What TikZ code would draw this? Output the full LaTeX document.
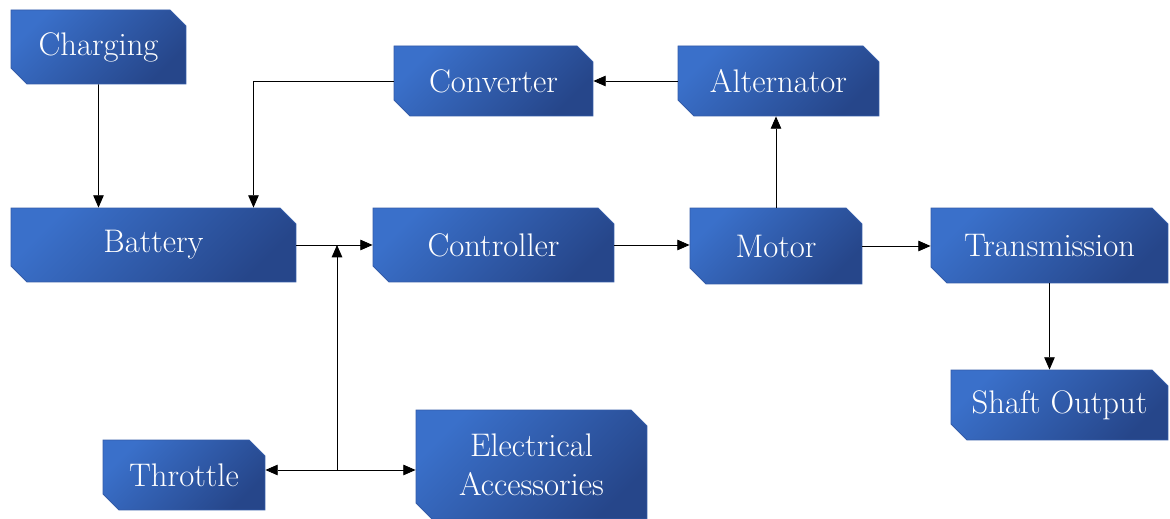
\documentclass[tikz,border=0pt]{standalone}
\usetikzlibrary{shapes.misc,arrows.meta}
\definecolor{boxlight}{RGB}{58,112,202}
\definecolor{boxdark}{RGB}{38,70,138}
\definecolor{boxline}{RGB}{52,92,168}
\begin{document}
\begin{tikzpicture}[x=0.02cm,y=-0.02cm,-{Triangle[length=7pt,width=6pt]},line width=0.5pt,
			blk/.style={chamfered rectangle,chamfered rectangle corners={north east,south west},
				chamfered rectangle xsep=0.16cm,chamfered rectangle ysep=0.16cm,
				draw=boxline,top color=boxlight,bottom color=boxdark,shading angle=45,
				text=white,font=\fontsize{18.6}{22}\selectfont,align=center,inner sep=0}]
			\useasboundingbox (0,0) rectangle (1170,519);
			\node[blk,minimum width=3.5cm,minimum height=1.48cm] (chg) at (98.5,47) {Charging};
			\node[blk,minimum width=3.98cm,minimum height=1.4cm] (conv) at (493.5,81) {Converter};
			\node[blk,minimum width=4.02cm,minimum height=1.4cm] (alt) at (778.5,81) {Alternator};
			\node[blk,minimum width=5.7cm,minimum height=1.48cm] (bat) at (153.5,245) {Battery};
			\node[blk,minimum width=4.82cm,minimum height=1.48cm] (ctrl) at (493.5,245) {Controller};
			\node[blk,minimum width=3.44cm,minimum height=1.52cm] (mot) at (776,246) {Motor};
			\node[blk,minimum width=4.74cm,minimum height=1.5cm] (trans) at (1049.5,245.5) {Transmission};
			\node[blk,minimum width=4.34cm,minimum height=1.4cm] (shaft) at (1059.5,405) {Shaft Output};
			\node[blk,minimum width=3.24cm,minimum height=1.4cm] (thr) at (184,475) {Throttle};
			\node[blk,minimum width=4.62cm,minimum height=2.18cm] (elec) at (531.5,464.5) {Electrical\\Accessories};
			\coordinate (j) at (337,470);
			\draw (chg) -- (chg |- bat.north);
			\draw (conv.west) -| ([xshift=2cm]bat.north);
			\draw (alt.west) -- (conv.east);
			\draw (mot.north) -- (mot.north |- alt.south);
			\draw (bat.east) -- (ctrl.west);
			\draw (j) -- (j |- bat.east);
			\draw (j) -- (thr.east |- j);
			\draw (j) -- (elec.west |- j);
			\draw (ctrl.east) -- (ctrl.east -| mot.west);
			\draw (mot.east) -- (mot.east -| trans.west);
			\draw (trans.south) -- (trans.south |- shaft.north);
		\end{tikzpicture}
\end{document}
